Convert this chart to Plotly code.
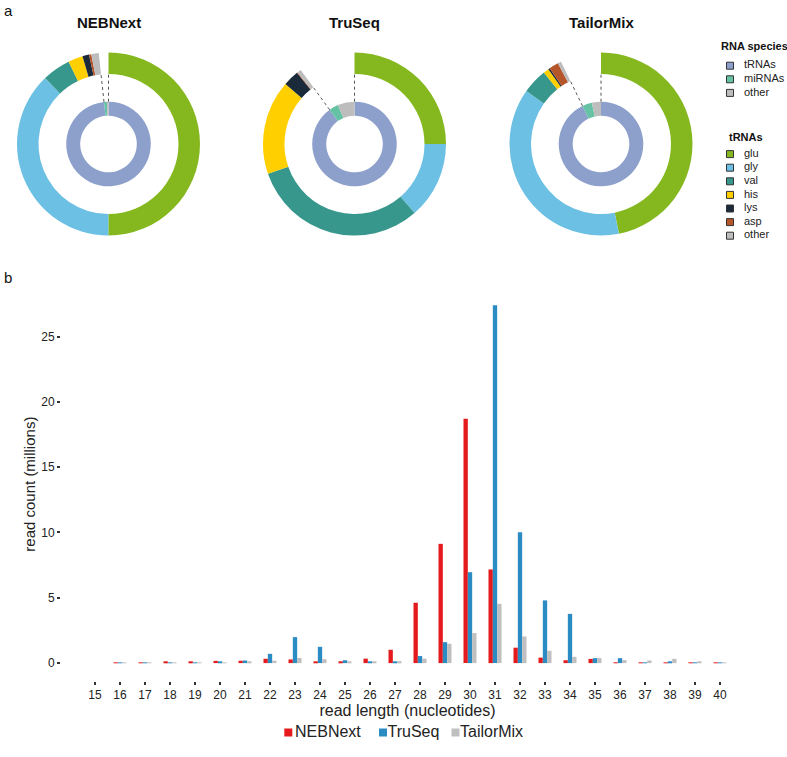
import math
import plotly.graph_objects as go

W, H = 787, 757
FONT = "Liberation Sans, Arial, Helvetica, sans-serif"

# ---------------- data: panel a ----------------
libraries = ["NEBNext", "TruSeq", "TailorMix"]
species_labels = ["tRNAs", "miRNAs", "other"]
species_colors = ["#8DA0CB", "#66C2A5", "#BDBDBD"]
# % of all reads
nebnext_species = [98.3, 1.1, 0.6]
truseq_species = [90.0, 3.6, 6.4]
tailormix_species = [92.8, 3.7, 3.5]

trna_labels = ["glu", "gly", "val", "his", "lys", "asp", "other"]
trna_colors = ["#85B81E", "#6CC0E3", "#37978C", "#FFCF00", "#1B2A3A", "#B5552A", "#BDBDBD"]
# % of tRNA reads
nebnext_trna = [50.9, 38.45, 5.09, 2.63, 1.19, 0.42, 1.33]
truseq_trna = [27.8, 15.1, 34.6, 18.5, 3.1, 0.15, 0.77]
tailormix_trna = [50.5, 40.9, 4.8, 1.05, 0.3, 1.8, 0.66]

# ---------------- data: panel b ----------------
read_lengths = list(range(15, 41))
nebnext_counts = [0, 0.03, 0.06, 0.1, 0.14, 0.17, 0.18, 0.33, 0.28, 0.13, 0.14, 0.34, 1.02,
                  4.62, 9.13, 18.7, 7.17, 1.18, 0.42, 0.22, 0.32, 0.03, 0.03, 0.03, 0.03, 0.02]
truseq_counts = [0, 0.03, 0.04, 0.04, 0.06, 0.1, 0.2, 0.71, 1.99, 1.25, 0.22, 0.07, 0.07,
                 0.54, 1.6, 6.96, 27.4, 10.02, 4.8, 3.77, 0.38, 0.38, 0.03, 0.08, 0.03, 0.01]
tailormix_counts = [0, 0.02, 0.02, 0.02, 0.03, 0.05, 0.1, 0.18, 0.4, 0.3, 0.07, 0.07, 0.15,
                    0.34, 1.48, 2.3, 4.54, 2.04, 0.94, 0.48, 0.38, 0.23, 0.2, 0.33, 0.1, 0.02]
bar_colors = ["#E41A1C", "#2B8CC4", "#BFBFBF"]
y_ticks = [0, 5, 10, 15, 20, 25]

species_by_lib = [nebnext_species, truseq_species, tailormix_species]
trna_by_lib = [nebnext_trna, truseq_trna, tailormix_trna]
counts_by_lib = [nebnext_counts, truseq_counts, tailormix_counts]

# ---------------- layout constants (pixels) ----------------
centers_x = [108.5, 354.5, 601.0]
center_y = 144.0
R_OUT, R_OUT_HOLE = 91.5, 70.0
R_IN, R_IN_HOLE = 42.3, 28.3

fig = go.Figure()
shapes = []
annotations = []


def px_x(v):
    return v / W


def px_y(v):
    return 1 - v / H


for lib, cx, sp, tr in zip(libraries, centers_x, species_by_lib, trna_by_lib):
    trna_total = sp[0]
    outer_vals = [trna_total * v / 100.0 for v in tr] + [100.0 - trna_total]
    outer_cols = trna_colors + ["rgba(0,0,0,0)"]
    fig.add_trace(go.Pie(
        values=outer_vals, labels=[f"{lib} {l}" for l in trna_labels] + [f"{lib} gap"],
        marker=dict(colors=outer_cols, line=dict(width=0)),
        hole=R_OUT_HOLE / R_OUT, sort=False, direction="clockwise", rotation=0,
        textinfo="none", showlegend=False, hoverinfo="label+value",
        domain=dict(x=[px_x(cx - R_OUT), px_x(cx + R_OUT)],
                    y=[px_y(center_y + R_OUT), px_y(center_y - R_OUT)]),
    ))
    fig.add_trace(go.Pie(
        values=sp, labels=[f"{lib} {l}" for l in species_labels],
        marker=dict(colors=species_colors, line=dict(width=0)),
        hole=R_IN_HOLE / R_IN, sort=False, direction="clockwise", rotation=0,
        textinfo="none", showlegend=False, hoverinfo="label+value",
        domain=dict(x=[px_x(cx - R_IN), px_x(cx + R_IN)],
                    y=[px_y(center_y + R_IN), px_y(center_y - R_IN)]),
    ))
    # dashed connectors at start of tRNA sector and at its end
    for ang in [0.0, trna_total / 100.0 * 2 * math.pi]:
        x0 = cx + R_IN * math.sin(ang)
        y0 = center_y - R_IN * math.cos(ang)
        x1 = cx + R_OUT_HOLE * math.sin(ang)
        y1 = center_y - R_OUT_HOLE * math.cos(ang)
        shapes.append(dict(type="line", xref="paper", yref="paper",
                           x0=px_x(x0), y0=px_y(y0), x1=px_x(x1), y1=px_y(y1),
                           line=dict(color="#555555", width=1, dash="dot")))
    annotations.append(dict(text=f"<b>{lib}</b>", x=px_x(cx), y=px_y(22), xref="paper", yref="paper",
                            showarrow=False, xanchor="center", yanchor="middle",
                            font=dict(size=15, color="#111111", family=FONT)))

# ---------------- panel b bars ----------------
for lib, cnt, col in zip(libraries, counts_by_lib, bar_colors):
    fig.add_trace(go.Bar(x=read_lengths, y=cnt, name=lib, marker=dict(color=col, line=dict(width=0)),
                         showlegend=False, xaxis="x", yaxis="y"))

# bottom legend (manual, on a hidden pixel-scaled axis)
legend_square_x = [288.3, 383.0, 455.5]
legend_text_x = [295.0, 387.5, 460.0]
LEG_Y = 732.5
fig.add_trace(go.Scatter(x=legend_square_x, y=[LEG_Y] * 3, mode="markers",
                         marker=dict(symbol="square", size=8, color=bar_colors, line=dict(width=0)),
                         cliponaxis=False, showlegend=False, hoverinfo="skip", xaxis="x3", yaxis="y3"))
fig.add_trace(go.Scatter(x=legend_text_x, y=[LEG_Y] * 3, mode="text", text=libraries,
                         textposition="middle right", cliponaxis=False,
                         textfont=dict(size=16, color="#222222", family=FONT),
                         showlegend=False, hoverinfo="skip", xaxis="x3", yaxis="y3"))

# ---------------- custom key (top right) ----------------
ROW = 13.6
species_rows = [0, 1, 2]
trna_rows = [6.5 + i for i in range(len(trna_labels))]
key_rows = species_rows + trna_rows
key_labels = species_labels + trna_labels
key_colors = species_colors + trna_colors
fig.add_trace(go.Scatter(x=[0] * len(key_rows), y=key_rows, mode="markers",
                         marker=dict(symbol="square", size=7, color=key_colors,
                                     line=dict(color="#333333", width=1)),
                         cliponaxis=False,
                         showlegend=False, hoverinfo="skip", xaxis="x2", yaxis="y2"))
fig.add_trace(go.Scatter(x=[14] * len(key_rows), y=key_rows, mode="text", text=key_labels,
                         textposition="middle right", cliponaxis=False,
                         textfont=dict(size=11, color="#222222", family=FONT),
                         showlegend=False, hoverinfo="skip", xaxis="x2", yaxis="y2"))
annotations.append(dict(text="<b>RNA species</b>", x=px_x(719), y=px_y(45.7), xref="paper", yref="paper",
                        showarrow=False, xanchor="left", yanchor="middle",
                        font=dict(size=11, color="#111111", family=FONT)))
annotations.append(dict(text="<b>tRNAs</b>", x=px_x(727), y=px_y(136.7), xref="paper", yref="paper",
                        showarrow=False, xanchor="left", yanchor="middle",
                        font=dict(size=11, color="#111111", family=FONT)))

# panel labels
annotations.append(dict(text="a", x=px_x(2), y=px_y(11), xref="paper", yref="paper", showarrow=False,
                        xanchor="left", yanchor="middle", font=dict(size=15, color="#111111", family=FONT)))
annotations.append(dict(text="b", x=px_x(2), y=px_y(277), xref="paper", yref="paper", showarrow=False,
                        xanchor="left", yanchor="middle", font=dict(size=15, color="#111111", family=FONT)))

KEY_TOP, KEY_BOT = 35.0, 245.0
key_y0 = 65.7

fig.update_layout(
    width=W, height=H,
    margin=dict(l=0, r=0, t=0, b=0),
    paper_bgcolor="white", plot_bgcolor="rgba(0,0,0,0)",
    font=dict(family=FONT, color="#222222"),
    barmode="group", bargap=0.48, bargroupgap=0,
    showlegend=False,
    xaxis=dict(domain=[px_x(61), px_x(754)], range=[13.64, 41.36],
               tickmode="array", tickvals=read_lengths, ticktext=[str(v) for v in read_lengths],
               ticks="outside", ticklen=3, tickwidth=1.5, tickcolor="#333333",
               tickfont=dict(size=12, color="#222222"),
               showgrid=False, zeroline=False, showline=False,
               title=dict(text="read length (nucleotides)", font=dict(size=16, color="#222222"), standoff=0)),
    yaxis=dict(domain=[px_y(681), px_y(287.3)], range=[-1.37, 28.77],
               tickmode="array", tickvals=y_ticks, ticktext=[str(v) for v in y_ticks],
               ticks="outside", ticklen=3, tickwidth=1.5, tickcolor="#333333",
               tickfont=dict(size=12, color="#222222"),
               showgrid=False, zeroline=False, showline=False,
               title=dict(text="read count (millions)", font=dict(size=15, color="#222222"), standoff=1)),
    xaxis2=dict(domain=[px_x(720), 1.0], range=[-10, 57], visible=False, fixedrange=True),
    yaxis2=dict(domain=[px_y(KEY_BOT), px_y(KEY_TOP)],
                range=[(KEY_BOT - key_y0) / ROW, (KEY_TOP - key_y0) / ROW],
                visible=False, fixedrange=True),
    xaxis3=dict(domain=[0, 1], range=[0, W], visible=False, fixedrange=True),
    yaxis3=dict(domain=[0, 1], range=[H, 0], visible=False, fixedrange=True),
    shapes=shapes,
    annotations=annotations,
)

fig.write_html("out.html", config={"displayModeBar": False},
               post_script="document.body.style.margin='0';document.body.style.padding='0';"
                           "document.body.style.overflow='hidden';")
